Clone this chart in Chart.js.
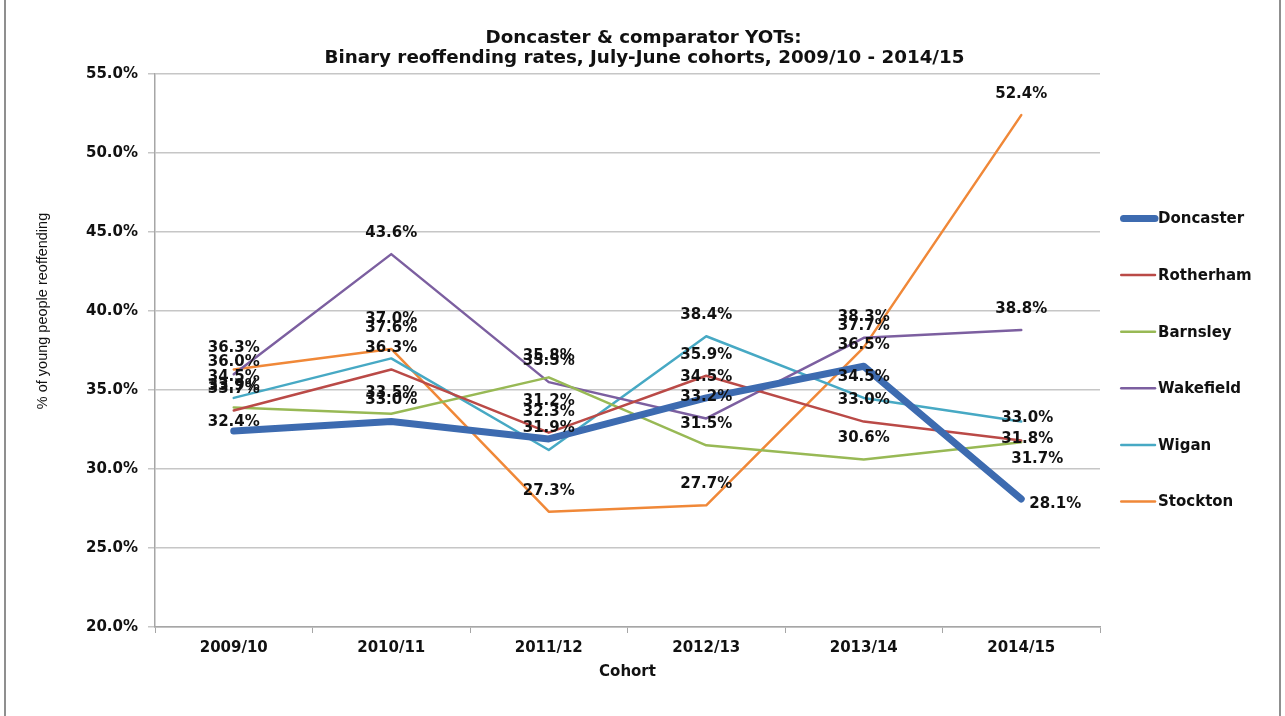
<!DOCTYPE html>
<html>
<head>
<meta charset="utf-8">
<script src="https://cdn.jsdelivr.net/npm/chart.js@4.4.1/dist/chart.umd.min.js"></script>
<style>
  html, body { margin: 0; padding: 0; background: #fff; }
  #wrap { position: relative; width: 1285px; height: 716px; overflow: hidden; }
  #frame { position: absolute; left: 4px; top: -3px; width: 1277px; height: 730px; border: 2px solid #8f8f8f; box-sizing: border-box; pointer-events: none; }
</style>
</head>
<body>
<div id="wrap">
  <canvas id="chart" width="1285" height="716"></canvas>
  <div id="frame"></div>
</div>
<script>
// cohorts along the x axis
cohorts = ['2009/10', '2010/11', '2011/12', '2012/13', '2013/14', '2014/15']

// binary reoffending rate (%) for each YOT
doncaster = [32.4, 33.0, 31.9, 34.5, 36.5, 28.1]
rotherham = [33.7, 36.3, 32.3, 35.9, 33.0, 31.8]
barnsley  = [33.9, 33.5, 35.8, 31.5, 30.6, 31.7]
wakefield = [36.0, 43.6, 35.5, 33.2, 38.3, 38.8]
wigan     = [34.5, 37.0, 31.2, 38.4, 34.5, 33.0]
stockton  = [36.3, 37.6, 27.3, 27.7, 37.7, 52.4]

// y axis range / step (percent)
yMin = 20
yMax = 55
yStep = 5

titleLines = ['Doncaster & comparator YOTs:', 'Binary reoffending rates, July-June cohorts, 2009/10 - 2014/15']
yTitle = '% of young people reoffending'

var boldFont = '"DejaVu Sans", sans-serif'

// label nudges where the original labels are not simply above the point
// key: dataset index + '-' + point index -> [dx, dy]
var labelNudge = {
  '0-0': [0, -9], '0-2': [0, -11], '0-5': [34, 5],
  '1-5': [6, -1],
  '2-5': [16, 17],
  '3-0': [0, -12],
  '4-1': [0, -39], '4-2': [0, -49], '4-5': [6, -3]
}

var dataLabels = {
  id: 'dataLabels',
  afterDatasetsDraw: function(chart) {
    var ctx = chart.ctx
    ctx.save()
    ctx.font = 'bold 15px ' + boldFont
    ctx.fillStyle = '#111'
    ctx.textAlign = 'center'
    ctx.textBaseline = 'middle'
    chart.data.datasets.forEach(function(ds, di) {
      var meta = chart.getDatasetMeta(di)
      meta.data.forEach(function(pt, pi) {
        var n = labelNudge[di + '-' + pi] || [0, -21]
        ctx.fillText(ds.data[pi].toFixed(1) + '%', pt.x + n[0], pt.y + n[1])
      })
    })
    ctx.restore()
  }
}

// title centred on the whole picture and the y axis title (sits a bit above middle)
var titles = {
  id: 'titles',
  afterDraw: function(chart) {
    var ctx = chart.ctx
    ctx.save()
    ctx.fillStyle = '#111'
    ctx.textAlign = 'center'
    ctx.textBaseline = 'middle'
    ctx.font = 'bold 18.3px ' + boldFont
    ctx.fillText(titleLines[0], chart.width / 2 + 1, 38)
    ctx.fillText(titleLines[1], chart.width / 2 + 2, 58)
    ctx.translate(43, 311)
    ctx.rotate(-Math.PI / 2)
    ctx.font = '14.5px "Liberation Sans", Arial, sans-serif'
    ctx.fillText(yTitle, 0, 0)
    ctx.restore()
  }
}

var sideLegend = {
  id: 'sideLegend',
  afterDraw: function(chart) {
    var ctx = chart.ctx
    var x0 = chart.chartArea.right + 20
    var gap = 56.6
    var n = chart.data.datasets.length
    var yTop = chart.height / 2 + 2 - gap * (n - 1) / 2
    ctx.save()
    ctx.font = 'bold 15px ' + boldFont
    ctx.textBaseline = 'middle'
    ctx.textAlign = 'left'
    chart.data.datasets.forEach(function(ds, i) {
      var y = yTop + i * gap
      ctx.strokeStyle = ds.borderColor
      ctx.lineWidth = ds.borderWidth
      ctx.lineCap = 'round'
      ctx.beginPath()
      ctx.moveTo(x0 + ds.borderWidth / 2, y)
      ctx.lineTo(x0 + 35, y)
      ctx.stroke()
      ctx.fillStyle = '#111'
      ctx.fillText(ds.label, x0 + 38, y + 1)
    })
    ctx.restore()
  }
}

function series(label, data, color, width) {
  return {
    label: label,
    data: data,
    borderColor: color,
    backgroundColor: color,
    borderWidth: width,
    pointRadius: 0,
    tension: 0,
    borderCapStyle: 'round',
    borderJoinStyle: 'round'
  }
}

chartdata = {
  labels: cohorts,
  datasets: [
    series('Doncaster', doncaster, '#3D6BB0', 7),
    series('Rotherham', rotherham, '#BA4A47', 2.5),
    series('Barnsley', barnsley, '#98B955', 2.5),
    series('Wakefield', wakefield, '#7C5FA0', 2.5),
    series('Wigan', wigan, '#47A9C4', 2.5),
    series('Stockton', stockton, '#F08838', 2.5)
  ]
}

config = {
  type: 'line',
  data: chartdata,
  plugins: [dataLabels, titles, sideLegend],
  options: {
    responsive: false,
    animation: false,
    layout: { padding: { left: 26, right: 185, top: 74, bottom: 35 } },
    plugins: {
      legend: { display: false },
      tooltip: { enabled: false },
      title: { display: false }
    },
    scales: {
      x: {
        offset: true,
        grid: { display: true, drawOnChartArea: false, offset: true, tickLength: 6, color: '#a6a6a6' },
        border: { color: '#a6a6a6', width: 1.5 },
        ticks: { color: '#111', padding: 6, font: { family: boldFont, size: 15, weight: 'bold' } },
        title: {
          display: true,
          text: 'Cohort',
          color: '#111',
          font: { family: boldFont, size: 15, weight: 'bold' },
          padding: { top: 0, bottom: 0 }
        }
      },
      y: {
        min: yMin,
        max: yMax,
        afterFit: function(scale) { scale.width = 129 },
        grid: { color: '#c6c6c6', lineWidth: 1.5, tickLength: 7 },
        border: { color: '#a6a6a6', width: 1.5 },
        ticks: {
          stepSize: yStep,
          color: '#111',
          padding: 10,
          font: { family: boldFont, size: 15, weight: 'bold' },
          callback: function(v) { return v.toFixed(1) + '%' }
        }
      }
    }
  }
}

var myChart = new Chart(document.getElementById('chart'), config)
</script>
</body>
</html>
